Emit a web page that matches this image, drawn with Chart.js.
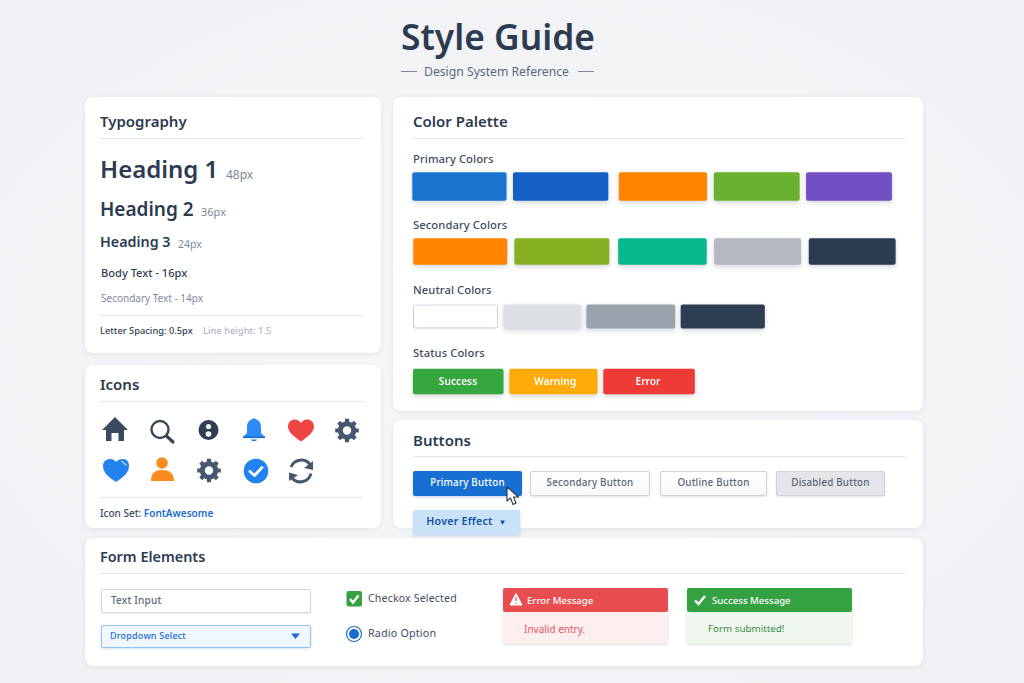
<!DOCTYPE html>
<html><head><meta charset="utf-8">
<script src="https://cdn.jsdelivr.net/npm/chart.js@4"></script>
<style>
html,body{margin:0;padding:0;width:1024px;height:683px;overflow:hidden;background:#f2f3f6;font-family:"Noto Sans",sans-serif;color:#2d3b50}
#bg{position:absolute;inset:0;background:radial-gradient(ellipse at 50% 50%,#f6f7f9 0%,#f1f2f5 80%)}
.card{position:absolute;background:#fff;border-radius:8px;box-shadow:0 1px 5px rgba(60,75,100,.10)}
.t{position:absolute;white-space:nowrap;transform:translateY(-50%);line-height:1.2}
.h{font-size:15px;font-weight:600;color:#2d3b50}
.r{position:absolute;height:1px;background:#e4e7ec}
.lbl{font-size:11.2px;font-weight:500;color:#3d4c60;letter-spacing:.1px}
.sw{font-size:10.2px;font-weight:600;color:#fff;transform:translate(-50%,-50%);z-index:3}
.b{position:absolute;box-sizing:border-box;border-radius:2px;display:flex;align-items:center;justify-content:center;font-size:9.8px;font-weight:500;letter-spacing:.2px;white-space:nowrap;padding-bottom:2px}
.o{background:linear-gradient(#fff,#f7f8fa);border:1px solid #ced3da;color:#5a6777;box-shadow:0 1px 2px rgba(60,75,100,.15)}
svg{position:absolute;overflow:visible}
canvas{position:absolute;z-index:2}
</style></head><body>
<div id="bg"></div>
<div class="t" style="left:498px;top:36px;transform:translate(-50%,-50%);font-size:35.3px;font-weight:600;color:#2d3b50">Style Guide</div>
<div class="t" style="left:424px;top:72px;font-size:12.2px;color:#5a697d">Design System Reference</div>
<div class="r" style="left:401px;top:71px;width:16px;background:#7d8897"></div>
<div class="r" style="left:578px;top:71px;width:16px;background:#7d8897"></div>

<div class="card" style="left:85px;top:97px;width:296px;height:256px"></div>
<div class="card" style="left:393px;top:97px;width:530px;height:314px"></div>
<div class="card" style="left:85px;top:365px;width:296px;height:163px"></div>
<div class="card" style="left:393px;top:420px;width:530px;height:108px"></div>
<div class="card" style="left:85px;top:538px;width:838px;height:128px"></div>

<!-- Typography -->
<div class="t h" style="left:100px;top:120.5px">Typography</div>
<div class="r" style="left:100px;top:138px;width:263px"></div>
<div class="t" style="left:100px;top:169px;font-size:24px;font-weight:600">Heading 1</div>
<div class="t" style="left:226px;top:175px;font-size:12px;color:#7b8798">48px</div>
<div class="t" style="left:100px;top:209px;font-size:19px;font-weight:600">Heading 2</div>
<div class="t" style="left:201px;top:212px;font-size:11px;color:#7b8798">36px</div>
<div class="t" style="left:100px;top:242px;font-size:14.3px;font-weight:600">Heading 3</div>
<div class="t" style="left:178px;top:244px;font-size:10.5px;color:#7b8798">24px</div>
<div class="t" style="left:101px;top:273px;font-size:11.1px;font-weight:500;color:#2f3e52">Body Text - 16px</div>
<div class="t" style="left:101px;top:298px;font-size:10px;color:#7d899a">Secondary Text - 14px</div>
<div class="r" style="left:100px;top:315px;width:263px"></div>
<div class="t" style="left:100px;top:331px;font-size:9.3px;font-weight:500;color:#2f3e52">Letter Spacing: 0.5px</div>
<div class="t" style="left:203px;top:331px;font-size:9.5px;color:#a3adbb">Line height: 1.5</div>

<!-- Palette -->
<div class="t h" style="left:413px;top:120.5px">Color Palette</div>
<div class="r" style="left:413px;top:138px;width:492px"></div>
<div class="t lbl" style="left:413px;top:159px">Primary Colors</div>
<div class="t lbl" style="left:413px;top:225px">Secondary Colors</div>
<div class="t lbl" style="left:413px;top:290px">Neutral Colors</div>
<div class="t lbl" style="left:413px;top:353px">Status Colors</div>
<canvas id="palette" width="530" height="260" style="left:393px;top:154px;width:530px;height:260px"></canvas>
<div class="t sw" style="left:458px;top:381px">Success</div>
<div class="t sw" style="left:555px;top:381px">Warning</div>
<div class="t sw" style="left:648px;top:381px">Error</div>

<!-- Icons -->
<div class="t h" style="left:100px;top:384px">Icons</div>
<div class="r" style="left:100px;top:401px;width:265px"></div>
<svg style="left:0;top:0" width="1024" height="683">
 <path d="M115 417 L128 430 L124 430 L124 441 L118.500 441 L118.500 433 L111.500 433 L111.500 441 L106 441 L106 430 L102 430 Z" fill="#3a4a60"/>
 <circle cx="160" cy="429.500" r="8.500" fill="none" stroke="#364558" stroke-width="2.400"/>
 <path d="M166.500 436 L173 442" stroke="#364558" stroke-width="3.200" stroke-linecap="round"/>
 <circle cx="208.500" cy="430" r="10" fill="#2f3e52"/><circle cx="208.500" cy="426.500" r="2.600" fill="#fff"/><circle cx="208.500" cy="434" r="2.800" fill="#fff"/>
 <path d="M254 419 C258 419 261 422 261 427 L261 433 L265 437 L243 437 L247 433 L247 427 C247 422 250 419 254 419Z" fill="#2d8bf5"/>
 <rect x="252.500" y="418" width="3" height="3" rx="1.500" fill="#2d8bf5"/>
 <rect x="243" y="436.500" width="22" height="1.600" fill="#1a6dd0"/>
 <path d="M251 439.500 H257 C256.500 441.500 251.500 441.500 251 439.500Z" fill="#1a6dd0"/>
 <path d="M301 441.500 C294 436.500 288 432 288 426.500 C288 422 291.500 419.500 295 419.500 C297.500 419.500 299.800 421 301 423 C302.200 421 304.500 419.500 307 419.500 C310.500 419.500 314 422 314 426.500 C314 432 308 436.500 301 441.500Z" fill="#ef4444"/>
 <g id="gear"><circle cx="347" cy="430.500" r="6.700" fill="none" stroke="#46586e" stroke-width="5"/>
  <g stroke="#46586e" stroke-width="4.200"><path d="M347 418.700V423M347 438V442.300M335.200 430.500H339.500M354.500 430.500H358.800M338.700 422.200L341.700 425.200M352.300 435.800L355.300 438.800M338.700 438.800L341.700 435.800M352.300 425.200L355.300 422.200"/></g></g>
 <use href="#gear" x="-138" y="40"/>
 <path d="M116 482 C108 477 103 472 103 466 C103 462 106 459 110 459 C112.500 459 114.800 460.200 116 462 C117.500 460 120 459 123 459 C127 459 129 462 129 466 C129 472 124 477 116 482Z" fill="#2383ee"/>
 <path d="M122 461.500 L126 465" stroke="#a8d0fa" stroke-width="1.500" stroke-linecap="round"/>
 <circle cx="162" cy="463" r="5.800" fill="#fb8a1e"/>
 <path d="M151 481 C151 473 155 470 162 470 C169 470 174 473 174 481Z" fill="#fb8a1e"/>
 <circle cx="256" cy="471" r="12.300" fill="#2383ee"/>
 <path d="M250 471.500 L254.500 475.500 L262 467.500" fill="none" stroke="#fff" stroke-width="2.800" stroke-linecap="round" stroke-linejoin="round"/>
 <g fill="none" stroke="#46586e" stroke-width="3"><path d="M291 467 A11 11 0 0 1 310 464.500"/><path d="M311 473.500 A11 11 0 0 1 292 478"/></g>
 <path d="M313 461 L313 470 L304 468Z" fill="#46586e"/><path d="M289 481 L289 472.500 L298 475Z" fill="#46586e"/>
</svg>
<div class="r" style="left:100px;top:497px;width:263px"></div>
<div class="t" style="left:100px;top:513px;font-size:10px;font-weight:500;color:#3d4c60">Icon Set: <span style="color:#1a6dd0;font-weight:600">FontAwesome</span></div>

<!-- Buttons -->
<div class="t h" style="left:413px;top:439.5px">Buttons</div>
<div class="r" style="left:413px;top:456px;width:492px"></div>
<div class="b" style="left:413px;top:471px;width:109px;height:25px;background:#176fd3;color:#fff;box-shadow:0 1px 3px rgba(40,90,160,.3)">Primary Button</div>
<div class="b o" style="left:530px;top:471px;width:120px;height:25px">Secondary Button</div>
<div class="b o" style="left:660px;top:471px;width:107px;height:25px">Outline Button</div>
<div class="b o" style="left:776px;top:471px;width:109px;height:25px;background:#e3e5e9">Disabled Button</div>
<div class="b" style="left:413px;top:510px;width:107px;height:25px;background:#c9e2f8;color:#14539e;font-weight:600;font-size:10.7px;padding-bottom:3px;box-shadow:0 1px 3px rgba(60,110,170,.25)">Hover Effect<span style="font-size:8px;margin-left:6px">▼</span></div>
<svg style="left:0;top:0;z-index:4" width="1024" height="683"><path d="M507 487 L507 501 L510.500 498 L513 504.500 L516 503 L513.500 497 L518.500 497Z" fill="#fff" stroke="#2b3440" stroke-width="1.100" stroke-linejoin="round"/></svg>

<!-- Forms -->
<div class="t" style="left:100px;top:557px;font-size:14.4px;font-weight:600;color:#2d3b50">Form Elements</div>
<div class="r" style="left:100px;top:573px;width:805px"></div>
<div class="b" style="left:101px;top:589px;width:210px;height:23.500px;background:#fff;border:1px solid #d3d8df;justify-content:flex-start;padding-left:9px;color:#5a6777;font-size:10px;box-shadow:0 1px 2px rgba(60,75,100,.1)">Text Input</div>
<div class="b" style="left:101px;top:624.500px;width:210px;height:23.500px;background:#f0f7fe;border:1px solid #90c2f5;justify-content:flex-start;padding-left:8px;color:#1a6dd0;font-size:9px;box-shadow:0 1px 3px rgba(60,110,170,.2)">Dropdown Select</div>
<svg style="left:0;top:0" width="1024" height="683">
 <path d="M291 633.500 H300 L295.500 639Z" fill="#1a6dd0"/>
 <rect x="346.500" y="591" width="15.500" height="15.500" rx="2" fill="#34a243"/>
 <path d="M350 599 L353 602.500 L358.500 595.500" fill="none" stroke="#fff" stroke-width="2.400"/>
 <circle cx="354" cy="634" r="7.500" fill="#fff" stroke="#1a6dd0" stroke-width="1.200"/>
 <circle cx="354" cy="634" r="5" fill="#1a6dd0"/>
</svg>
<div class="t" style="left:368px;top:598px;font-size:10.500px;color:#3d4c60;letter-spacing:.2px">Checkox Selected</div>
<div class="t" style="left:368px;top:633px;font-size:10.7px;color:#3d4c60;letter-spacing:.2px">Radio Option</div>

<div class="b" style="left:503px;top:588px;width:165px;height:56px;background:#fdeef0;box-shadow:0 1px 3px rgba(60,75,100,.2)"></div>
<div class="b" style="left:503px;top:588px;width:165px;height:24px;background:#e84e50"></div>
<div class="t" style="left:527px;top:601px;font-size:9.6px;font-weight:500;color:#fff">Error Message</div>
<div class="t" style="left:524px;top:629px;font-size:10px;color:#e9545d">Invalid entry.</div>
<div class="b" style="left:687px;top:588px;width:165px;height:56px;background:#eef6ee;box-shadow:0 1px 3px rgba(60,75,100,.2)"></div>
<div class="b" style="left:687px;top:588px;width:165px;height:24px;background:#34a243"></div>
<div class="t" style="left:712px;top:601px;font-size:9.6px;font-weight:500;color:#fff">Success Message</div>
<div class="t" style="left:708px;top:629px;font-size:9.8px;color:#3d8b46">Form submitted!</div>
<svg style="left:0;top:0;z-index:3" width="1024" height="683">
 <path d="M516 593.500 L522 605 H510Z" fill="#fff" stroke="#fff" stroke-width="1" stroke-linejoin="round"/>
 <path d="M516 597 V601 M516 602.500 V603.800" stroke="#e84e50" stroke-width="1.200"/>
 <path d="M695 600.500 L698.500 604 L705 596" fill="none" stroke="#fff" stroke-width="2.400"/>
</svg>

<script>
const paletteGroups = ['Primary Colors','Secondary Colors','Neutral Colors','Status Colors'];
const primarySwatches   = [[412.6,506.2],[513.3,608],[619.1,706.7],[714.1,799.3],[806.4,891.6]];
const secondarySwatches = [[413.6,506.9],[514.7,609],[618.5,706.4],[714.5,800.7],[809.1,895.3]];
const neutralSwatches   = [[413.3,497.8],[503.9,580.9],[586.7,674.9],[681,764.5]];
const statusSwatches    = [[413.3,503.2],[509.6,597.2],[603.6,694.5]];
const primaryColors   = ['#1a73cf','#1460c4','#ff8500','#6bb130','#7050c2'];
const secondaryColors = ['#ff8500','#85b122','#06b88a','#b3b8c1','#2d3b50'];
const neutralColors   = ['#ffffff','#dcdfe4','#98a3ae','#2e3d52'];
const statusColors    = ['#36a63f','#ffab09','#ee3b36'];
const rowThickness    = [28,26,23.5,25];

const rows = [primarySwatches, secondarySwatches, neutralSwatches, statusSwatches];
const rowColors = [primaryColors, secondaryColors, neutralColors, statusColors];
const datasets = [];
rows.forEach((row, r) => row.forEach((extent, i) => {
  const fill = rowColors[r][i];
  datasets.push({
    label: paletteGroups[r] + ' ' + (i + 1),
    data: [{ x: extent, y: paletteGroups[r] }],
    backgroundColor: fill,
    borderColor: fill === '#ffffff' ? '#d5dae1' : fill,
    borderWidth: fill === '#ffffff' ? 1 : 0,
    borderSkipped: false,
    borderRadius: 2,
    barThickness: rowThickness[r],
    grouped: false,
    clip: false
  });
}));

const softShadow = {
  id: 'softShadow',
  beforeDatasetsDraw(c) {
    c.ctx.save();
    c.ctx.shadowColor = 'rgba(50,65,90,.22)';
    c.ctx.shadowBlur = 5;
    c.ctx.shadowOffsetY = 2;
  },
  afterDatasetsDraw(c) { c.ctx.restore(); }
};

new Chart(document.getElementById('palette'), {
  type: 'bar',
  data: { labels: paletteGroups, datasets },
  options: {
    indexAxis: 'y',
    responsive: false,
    animation: false,
    devicePixelRatio: 1,
    layout: { padding: 0 },
    plugins: { legend: { display: false }, tooltip: { enabled: false } },
    scales: {
      x: { type: 'linear', min: 393, max: 923, display: false },
      y: { type: 'category', offset: true, display: false }
    }
  },
  plugins: [softShadow]
});
</script>
</body></html>
